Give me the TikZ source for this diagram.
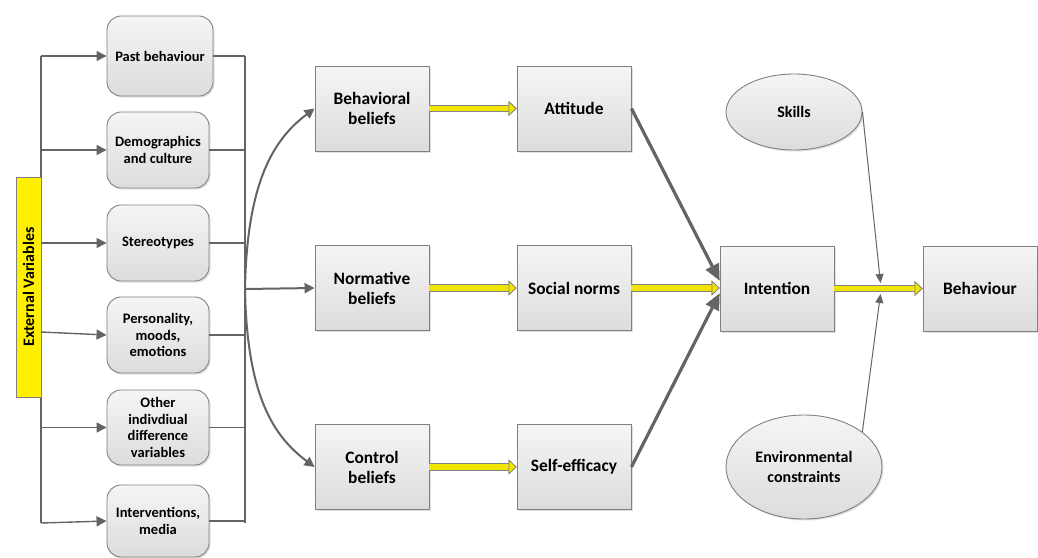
\documentclass[tikz,border=0pt]{standalone}
\usepackage{fontspec}
\setmainfont{Carlito}
\usetikzlibrary{arrows.meta,shapes.geometric,shadows,calc}

\definecolor{linegray}{RGB}{100,100,100}
\definecolor{boxborder}{RGB}{128,128,128}
\definecolor{fillTop}{RGB}{245,245,245}
\definecolor{fillBot}{RGB}{220,220,220}
\definecolor{ylw}{RGB}{240,228,0}
\definecolor{barYellow}{RGB}{255,240,0}

\begin{document}
\begin{tikzpicture}[x=1pt,y=-1pt,
  shade box/.style={draw=boxborder, line width=0.9pt, top color=fillTop, bottom color=fillBot,
    drop shadow={shadow xshift=1.5pt, shadow yshift=-1.5pt, fill=black, opacity=0.12}},
  sidebox/.style={shade box, rounded corners=14pt, minimum width=102pt, align=center, inner sep=0pt,
    font=\fontsize{14.5}{16.7}\selectfont\bfseries},
  mainbox/.style={shade box, minimum width=114pt, minimum height=85pt, align=center, inner sep=0pt,
    font=\fontsize{17.4}{20}\selectfont\bfseries},
  oval/.style={shade box, ellipse, inner sep=0pt, align=center,
    font=\fontsize{16}{19.5}\selectfont\bfseries},
  extbar/.style={draw=boxborder, line width=0.9pt, fill=barYellow, rotate=90, inner sep=0pt,
    font=\fontsize{16}{19}\selectfont\bfseries},
  link/.style={draw=linegray, line width=1.4pt},
  feed/.style={link, -{Triangle[length=10pt,width=10pt]}},
  curved feed/.style={feed, line width=2pt},
  thick feed/.style={draw=linegray, line width=3.2pt, -{Triangle[length=16pt,width=15pt,line width=0.5pt]}},
  thin feed/.style={draw=linegray, line width=1pt, -{Triangle[length=9pt,width=8pt]}},
  flow/.style={draw=ylw, line width=5.6pt, preaction={draw=linegray!80, line width=7.2pt},
    -{Triangle[length=8pt,width=15pt,line width=0.7pt,fill=ylw,color=linegray!80]}},
]
\useasboundingbox (0,0) rectangle (1038,557);

% trunk and bus coordinates
\coordinate (lt) at (41,56);
\coordinate (lb) at (41,523);
\coordinate (lp) at (41,332);
\coordinate (rt) at (245,56);
\coordinate (rb) at (245,523);
\coordinate (hub) at (245,289);
\coordinate (skT) at (880.5,283);
\coordinate (envT) at (880.5,294);

% left trunk
\draw[link] (lt) -- (lb);

% external variables bar
\node[extbar, minimum width=220pt, minimum height=25pt] (ext) at (28.5,287) {External Variables};

% antecedent boxes
\node[sidebox, minimum width=106pt, minimum height=80pt] (past) at (160,56) {Past behaviour};
\node[sidebox, minimum height=76pt] (demo) at (158,150) {Demographics\\and culture};
\node[sidebox, minimum height=76pt] (stereo) at (158,243) {Stereotypes};
\node[sidebox, minimum height=76pt] (pers) at (158,335) {Personality,\\moods,\\emotions};
\node[sidebox, minimum height=75pt] (other) at (158,427.5) {Other\\indivdiual\\difference\\variables};
\node[sidebox, minimum height=72pt] (interv) at (158,521) {Interventions,\\media};

% belief / determinant boxes
\node[mainbox] (bb) at (372,108.5) {Behavioral\\beliefs};
\node[mainbox] (att) at (574,108.5) {Attitude};
\node[mainbox] (nb) at (372,288) {Normative\\beliefs};
\node[mainbox] (sn) at (574,288) {Social norms};
\node[mainbox] (cb) at (372,467) {Control\\beliefs};
\node[mainbox] (se) at (574,467) {Self-efficacy};
\node[mainbox] (int) at (777,288.5) {Intention};
\node[mainbox] (beh) at (980,288.5) {Behaviour};

% moderators
\node[oval, minimum width=136pt, minimum height=76pt] (skills) at (794,112) {Skills};
\node[oval, minimum width=156pt, minimum height=104pt] (env) at (804,467) {Environmental\\constraints};

% trunk to antecedents
\draw[feed] (lt) -- (past.west);
\draw[feed] (demo.west -| lt) -- (demo.west);
\draw[feed] (stereo.west -| lt) -- (stereo.west);
\draw[feed] (lp) -- (pers.west);
\draw[feed] (other.west -| lt) -- (other.west);
\draw[feed] (lb) -- (interv.west);

% antecedents to right bus
\draw[link] (rt) -- (rb);
\draw[link] (past.east) -- (past.east -| rt);
\draw[link] (demo.east) -- (demo.east -| rt);
\draw[link] (stereo.east) -- (stereo.east -| rt);
\draw[link] (pers.east) -- (pers.east -| rt);
\draw[link] (other.east) -- (other.east -| rt);
\draw[link] (interv.east) -- (interv.east -| rt);

% bus to beliefs
\draw[curved feed] (hub) -- (nb.west);
\draw[curved feed] (hub) .. controls +(2,-109) and +(-40,30) .. (bb.west);
\draw[curved feed] (hub) .. controls +(2,109) and +(-40,-30) .. (cb.west);

% determinants to intention
\draw[thick feed] (att.east) -- ($(int.west)+(0,-8)$);
\draw[thick feed] (se.east) -- ($(int.west)+(0,5)$);

% yellow flow arrows
\draw[flow] (bb.east) -- (att.west);
\draw[flow] (nb.east) -- (sn.west);
\draw[flow] (cb.east) -- (se.west);
\draw[flow] (sn.east) -- (sn.east -| int.west);
\draw[flow] (int.east) -- (beh.west);

% moderators onto intention-behaviour link
\draw[thin feed] (skills.east) -- (skT);
\draw[thin feed] (env.31) -- (envT);
\end{tikzpicture}
\end{document}
